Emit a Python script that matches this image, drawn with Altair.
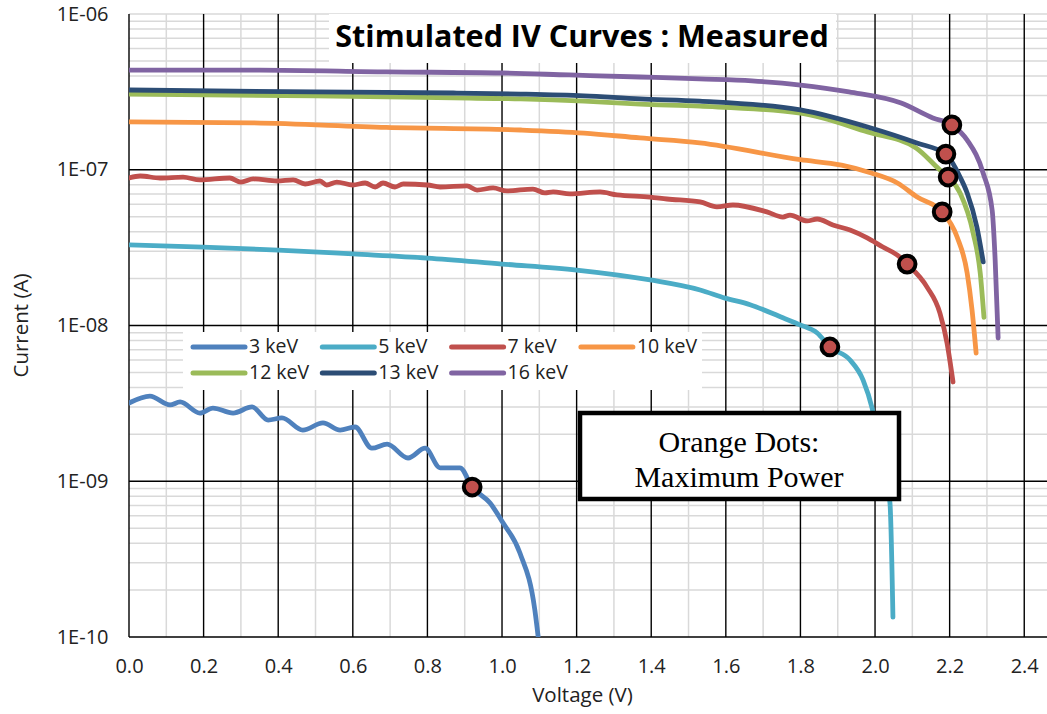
import altair as alt
import pandas as pd

SERIES = ["3 keV", "5 keV", "7 keV", "10 keV", "12 keV", "13 keV", "16 keV"]
COLORS = ["#4F81BD", "#4BACC6", "#C0504D", "#F79646", "#9BBB59", "#2C4D75", "#8064A2"]

v_3 = [0.0, 0.056, 0.110, 0.137, 0.190, 0.225, 0.279, 0.330, 0.373, 0.410, 0.466, 0.520, 0.566,
       0.606, 0.651, 0.692, 0.748, 0.794, 0.834, 0.887, 0.920, 0.968, 1.003, 1.048, 1.088, 1.097]
i_3 = [3.18e-9, 3.52e-9, 3.09e-9, 3.23e-9, 2.74e-9, 2.95e-9, 2.74e-9, 3.00e-9, 2.47e-9, 2.55e-9,
       2.13e-9, 2.37e-9, 2.13e-9, 2.23e-9, 1.63e-9, 1.73e-9, 1.41e-9, 1.63e-9, 1.22e-9, 1.22e-9,
       9.18e-10, 7.24e-10, 5.39e-10, 3.46e-10, 1.49e-10, 1.0e-10]

v_5 = [0.0, 0.198, 0.40, 0.60, 0.80, 1.0, 1.2, 1.397, 1.531, 1.598, 1.665, 1.753, 1.799, 1.845,
       1.879, 1.933, 1.968, 1.992, 2.013, 2.040, 2.048]
i_5 = [3.29e-8, 3.19e-8, 3.05e-8, 2.88e-8, 2.71e-8, 2.48e-8, 2.27e-8, 1.96e-8, 1.69e-8, 1.50e-8,
       1.36e-8, 1.12e-8, 1.01e-8, 8.95e-9, 7.28e-9, 6.00e-9, 4.46e-9, 2.95e-9, 1.59e-9, 7.25e-10,
       1.34e-10]

v_7 = [0.0, 0.03, 0.083, 0.145, 0.19, 0.27, 0.30, 0.333, 0.397, 0.44, 0.472, 0.512, 0.53, 0.557,
       0.60, 0.633, 0.66, 0.681, 0.713, 0.735, 0.80, 0.834, 0.906, 0.933, 0.976, 1.013, 1.083,
       1.115, 1.137, 1.182, 1.263, 1.308, 1.397, 1.442, 1.531, 1.576, 1.619, 1.710, 1.753, 1.772,
       1.818, 1.845, 1.887, 1.933, 1.979, 2.021, 2.059, 2.086, 2.139, 2.174, 2.193, 2.209]
i_7 = [8.85e-8, 9.12e-8, 8.85e-8, 8.98e-8, 8.60e-8, 8.85e-8, 8.34e-8, 8.73e-8, 8.47e-8, 8.60e-8,
       8.10e-8, 8.47e-8, 7.98e-8, 8.34e-8, 7.98e-8, 8.22e-8, 7.75e-8, 8.22e-8, 7.75e-8, 8.10e-8,
       7.98e-8, 7.75e-8, 7.87e-8, 7.41e-8, 7.64e-8, 7.31e-8, 7.52e-8, 7.10e-8, 7.20e-8, 6.99e-8,
       7.20e-8, 6.89e-8, 6.68e-8, 6.49e-8, 6.21e-8, 5.77e-8, 5.94e-8, 5.36e-8, 4.97e-8, 5.12e-8,
       4.69e-8, 4.83e-8, 4.42e-8, 4.10e-8, 3.65e-8, 3.19e-8, 2.84e-8, 2.48e-8, 1.77e-8, 1.20e-8,
       7.72e-9, 4.34e-9]

v_10 = [0.0, 0.33, 0.69, 1.05, 1.22, 1.37, 1.53, 1.80, 1.91, 1.99, 2.06, 2.113, 2.18, 2.22,
        2.247, 2.26, 2.271]
i_10 = [2.03e-7, 2.00e-7, 1.87e-7, 1.80e-7, 1.72e-7, 1.60e-7, 1.49e-7, 1.16e-7, 1.07e-7, 9.53e-8,
        8.22e-8, 6.68e-8, 5.36e-8, 3.70e-8, 2.17e-8, 1.26e-8, 6.66e-9]

v_12 = [0.0, 0.5, 0.87, 1.05, 1.22, 1.37, 1.53, 1.80, 1.98, 2.11, 2.174, 2.196, 2.228, 2.263,
        2.282, 2.292]
i_12 = [3.06e-7, 2.98e-7, 2.89e-7, 2.85e-7, 2.76e-7, 2.64e-7, 2.56e-7, 2.31e-7, 1.75e-7, 1.38e-7,
        9.96e-8, 8.98e-8, 7.09e-8, 3.93e-8, 2.17e-8, 1.13e-8]

v_13 = [0.0, 0.5, 0.87, 1.05, 1.22, 1.37, 1.53, 1.80, 1.98, 2.11, 2.19, 2.228, 2.247, 2.273, 2.29]
i_13 = [3.25e-7, 3.16e-7, 3.11e-7, 3.06e-7, 2.98e-7, 2.85e-7, 2.76e-7, 2.42e-7, 1.88e-7, 1.49e-7,
        1.26e-7, 8.98e-8, 7.09e-8, 4.29e-8, 2.56e-8]

v_16 = [0.0, 0.35, 0.69, 1.0, 1.18, 1.37, 1.53, 1.67, 1.80, 1.93, 2.07, 2.155, 2.206, 2.247,
        2.29, 2.314, 2.322, 2.33]
i_16 = [4.36e-7, 4.36e-7, 4.25e-7, 4.18e-7, 4.06e-7, 3.94e-7, 3.83e-7, 3.72e-7, 3.50e-7, 3.16e-7,
        2.68e-7, 2.15e-7, 1.94e-7, 1.55e-7, 9.5e-8, 5.5e-8, 2.64e-8, 8.3e-9]

# maximum power points
mp_voltage = [0.920, 1.879, 2.086, 2.180, 2.196, 2.190, 2.206]
mp_current = [9.18e-10, 7.28e-9, 2.48e-8, 5.36e-8, 8.98e-8, 1.26e-7, 1.94e-7]

x_ticks = [0.0, 0.2, 0.4, 0.6, 0.8, 1.0, 1.2, 1.4, 1.6, 1.8, 2.0, 2.2, 2.4]
x_minor = [0.1, 0.3, 0.5, 0.7, 0.9, 1.1, 1.3, 1.5, 1.7, 1.9, 2.1, 2.3]
y_ticks = [1e-10, 1e-9, 1e-8, 1e-7, 1e-6]
y_minor = [k * 10.0 ** e for e in range(-10, -6) for k in range(2, 10)]

curves = [(v_3, i_3), (v_5, i_5), (v_7, i_7), (v_10, i_10), (v_12, i_12), (v_13, i_13), (v_16, i_16)]
frames = []
for name, (vv, ii) in zip(SERIES, curves):
    frames.append(pd.DataFrame({"V": vv, "I": ii, "series": name}))
df = pd.concat(frames, ignore_index=True)
dots = pd.DataFrame({"V": mp_voltage, "I": mp_current, "series": SERIES})

xs = alt.Scale(domain=[0, 2.461], nice=False, zero=False)
ys = alt.Scale(type="log", domain=[1e-10, 1e-6], nice=False)

FONT = "Open Sans"
TXT = "#222222"

x_axis = alt.Axis(values=x_ticks, format=".1f", grid=False, ticks=False, domain=False,
                  labelFont=FONT, labelFontSize=20, labelColor=TXT, labelPadding=19,
                  labelFlush=False, labelOverlap=False,
                  title="Voltage (V)", titleFont=FONT, titleFontSize=20.5, titleFontWeight="normal",
                  titleColor=TXT, titleX=453, titleY=58, titleAlign="center", titleBaseline="middle")
y_axis = alt.Axis(values=y_ticks, grid=False, ticks=False, domain=False,
                  labelExpr="'1E-' + (abs(round(log(datum.value)/LN10)) < 10 ? '0' : '') + abs(round(log(datum.value)/LN10))",
                  labelFont=FONT, labelFontSize=20, labelColor=TXT, labelPadding=21,
                  labelFlush=False, labelOverlap=False, labelBaseline="middle",
                  title="Current (A)", titleFont=FONT, titleFontSize=20.5, titleFontWeight="normal",
                  titleColor=TXT, titleX=-108, titleY=311, titleAngle=270,
                  titleAlign="center", titleBaseline="middle")


def X(field):
    return alt.X(field, type="quantitative", scale=xs, axis=x_axis, title="Voltage (V)")


def Y(field):
    return alt.Y(field, type="quantitative", scale=ys, axis=y_axis, title="Current (A)")


grid_x_minor = alt.Chart(pd.DataFrame({"V": x_minor})).mark_rule(color="#D9D9D9", strokeWidth=1.5).encode(x=X("V"))
grid_y_minor = alt.Chart(pd.DataFrame({"I": y_minor + [1e-6]})).mark_rule(color="#D9D9D9", strokeWidth=1.5).encode(y=Y("I"))
grid_x_major = alt.Chart(pd.DataFrame({"V": x_ticks})).mark_rule(color="#000000", strokeWidth=1.4).encode(x=X("V"))
grid_y_major = alt.Chart(pd.DataFrame({"I": y_ticks[:-1]})).mark_rule(color="#000000", strokeWidth=1.4).encode(y=Y("I"))

one = pd.DataFrame({"a": [0]})
title_box = alt.Chart(one).mark_rect(fill="white").encode(
    x=alt.value(200), x2=alt.value(707), y=alt.value(0), y2=alt.value(49))

color_scale = alt.Scale(domain=SERIES, range=COLORS)

lines = alt.Chart(df).mark_line(strokeWidth=4.8, strokeCap="round", strokeJoin="round",
                                interpolate="monotone", clip=True).encode(
    x=X("V"), y=Y("I"),
    color=alt.Color("series:N", scale=color_scale, legend=None),
    order=alt.Order("V:Q"),
)

dot_layer = alt.Chart(dots).mark_point(shape="circle", filled=True, size=280, fill="#C0504D",
                                       stroke="black", strokeWidth=4, opacity=1).encode(
    x=X("V"), y=Y("I"),
)

# manual legend (layout positions in pixels of the plot area)
leg_rows = [i // 4 for i in range(len(SERIES))]
leg_cols = [i % 4 for i in range(len(SERIES))]
leg = pd.DataFrame({
    "series": SERIES,
    "x0": [64 + 129.3 * c for c in leg_cols],
    "x1": [116 + 129.3 * c for c in leg_cols],
    "tx": [120 + 129.3 * c for c in leg_cols],
    "ly": [333 + 26 * r for r in leg_rows],
})
leg_box = alt.Chart(one).mark_rect(fill="white").encode(
    x=alt.value(54), x2=alt.value(573), y=alt.value(318), y2=alt.value(376))
leg_lines = alt.Chart(leg).mark_rule(strokeWidth=5, strokeCap="round").encode(
    x=alt.X("x0:Q", scale=None), x2="x1:Q", y=alt.Y("ly:Q", scale=None),
    color=alt.Color("series:N", scale=color_scale, legend=None))
leg_text = alt.Chart(leg).mark_text(font=FONT, fontSize=19.5, color=TXT, align="left",
                                    baseline="middle").encode(
    x=alt.X("tx:Q", scale=None), y=alt.Y("ly:Q", scale=None), text="series:N")

note_box = alt.Chart(one).mark_rect(fill="white", stroke="black", strokeWidth=4.5).encode(
    x=alt.value(451), x2=alt.value(770), y=alt.value(399), y2=alt.value(485))
note1 = alt.Chart(one).mark_text(text="Orange Dots:", font="Liberation Serif", fontSize=30,
                                 color="black", align="center", baseline="middle").encode(
    x=alt.value(610), y=alt.value(429))
note2 = alt.Chart(one).mark_text(text="Maximum Power", font="Liberation Serif", fontSize=30,
                                 color="black", align="center", baseline="middle").encode(
    x=alt.value(610), y=alt.value(464))
title_text = alt.Chart(one).mark_text(text="Stimulated IV Curves : Measured", font=FONT, fontSize=30.5,
                                      fontWeight="bold", color="black", align="center",
                                      baseline="middle").encode(
    x=alt.value(453), y=alt.value(24))

chart = alt.layer(
    grid_x_minor, grid_y_minor, grid_x_major, grid_y_major, title_box, leg_box,
    lines, dot_layer, leg_lines, leg_text, note_box, note1, note2, title_text
).properties(
    width=918, height=623,
    autosize=alt.AutoSizeParams(type="none"),
    padding={"left": 129, "top": 14, "right": 0, "bottom": 77},
    background="white",
).configure_view(stroke=None)

chart.save("out.html", embed_options={"renderer": "svg", "actions": False})
